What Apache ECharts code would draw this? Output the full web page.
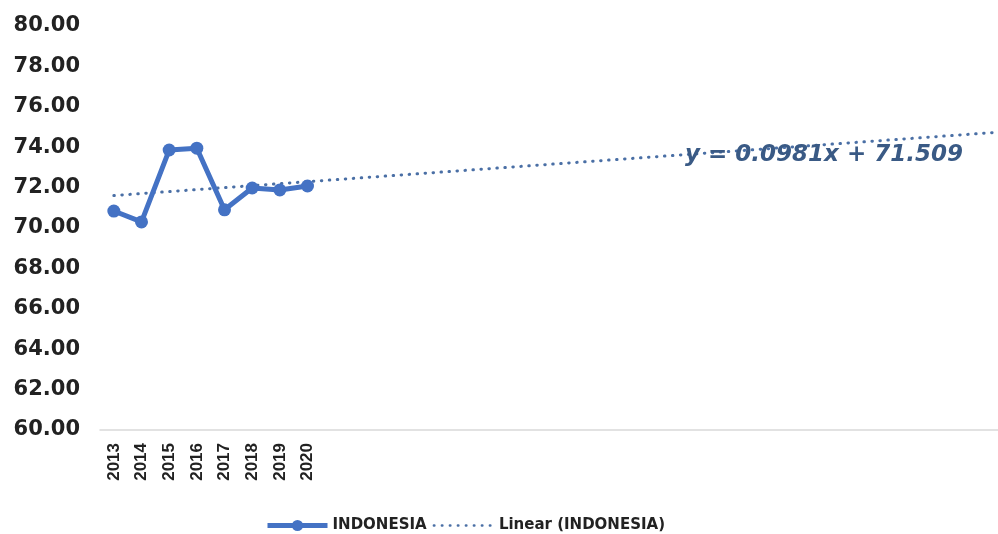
<!DOCTYPE html>
<html>
<head>
<meta charset="utf-8">
<script src="https://cdn.jsdelivr.net/npm/echarts@6/dist/echarts.min.js"></script>
<style>html,body{margin:0;padding:0;background:#fff;}#c{width:998px;height:534px;}</style>
</head>
<body>
<div id="c"></div>
<script>
// Data
const years = ['2013','2014','2015','2016','2017','2018','2019','2020'];
const indonesia = [70.84, 70.30, 73.86, 73.95, 70.90, 71.98, 71.88, 72.08];
// Trend line (Excel linear trendline, forecast forward) - start and end values
const trendEnds = [71.607, 74.746];
const totalSlots = 33;
const equationText = 'y = 0.0981x + 71.509';
const yTicks = { min: 60, max: 80, interval: 2 };

const categories = years.slice();
while (categories.length < totalSlots) categories.push('');
const lineData = indonesia.slice();
const trendData = new Array(totalSlots).fill(null);
trendData[0] = trendEnds[0];
trendData[totalSlots - 1] = trendEnds[1];

const chart = echarts.init(document.getElementById('c'), null, {renderer: 'canvas'});
chart.setOption({
  animation: false,
  backgroundColor: '#ffffff',
  grid: { left: 100, right: -15, top: 26, bottom: 104, containLabel: false, outerBoundsMode: 'none' },
  xAxis: {
    type: 'category',
    data: categories,
    boundaryGap: true,
    axisLine: { show: true, lineStyle: { color: '#d9d9d9', width: 1.5 } },
    axisTick: { show: false },
    axisLabel: {
      interval: 0, rotate: 90, margin: 13,
      fontFamily: 'Liberation Sans', fontWeight: 'bold', fontSize: 17, color: '#222'
    },
    splitLine: { show: false }
  },
  yAxis: {
    type: 'value',
    min: yTicks.min, max: yTicks.max, interval: yTicks.interval,
    axisLine: { show: false },
    axisTick: { show: false },
    splitLine: { show: false },
    axisLabel: {
      margin: 20,
      formatter: v => v.toFixed(2),
      fontFamily: 'DejaVu Sans', fontWeight: 'bold', fontSize: 21, color: '#222'
    }
  },
  legend: {
    bottom: -4,
    left: 260,
    itemWidth: 60, itemHeight: 14, itemGap: 6,
    textStyle: { fontFamily: 'DejaVu Sans', fontWeight: 'bold', fontSize: 15, color: '#222' },
    data: [
      { name: 'INDONESIA', lineStyle: { width: 5 } },
      { name: 'Linear (INDONESIA)', itemStyle: { opacity: 0 }, lineStyle: { width: 2.5 } }
    ]
  },
  series: [
    {
      name: 'INDONESIA',
      type: 'line',
      data: lineData,
      symbol: 'circle',
      symbolSize: 13,
      itemStyle: { color: '#4472C4' },
      lineStyle: { color: '#4472C4', width: 5 },
      z: 3
    },
    {
      name: 'Linear (INDONESIA)',
      type: 'line',
      data: trendData,
      connectNulls: true,
      symbol: 'none',
      itemStyle: { color: '#4a6fa5' },
      lineStyle: { color: '#4a6fa5', width: 3, type: [0.5, 7.5], cap: 'round' },
      z: 2
    }
  ],
  graphic: [
    {
      type: 'text',
      left: 685,
      top: 144,
      z: 10,
      style: {
        text: equationText,
        fontFamily: 'DejaVu Sans', fontWeight: 'bold', fontStyle: 'italic', fontSize: 23,
        fill: '#3a5a85'
      }
    }
  ]
});
</script>
</body>
</html>
